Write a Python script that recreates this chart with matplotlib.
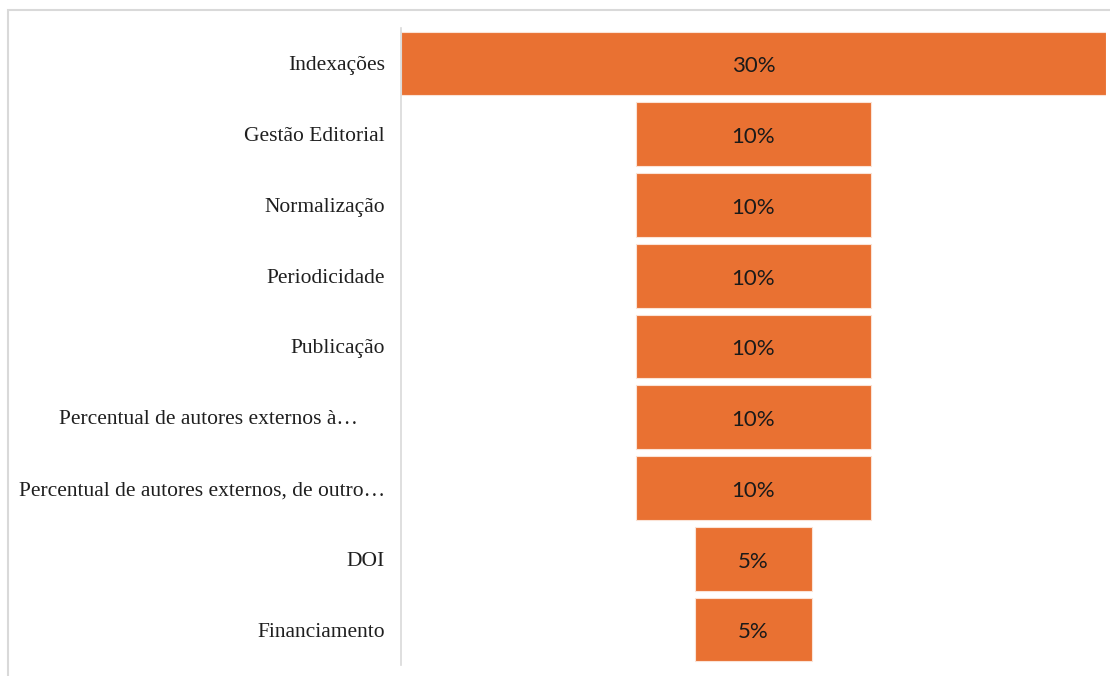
import matplotlib.pyplot as plt
from matplotlib.patches import Rectangle

categories = ['Indexações', 'Gestão Editorial', 'Normalização', 'Periodicidade',
              'Publicação', 'Percentual de autores externos à…     ',
              'Percentual de autores externos, de outro…', 'DOI', 'Financiamento']
values = [30, 10, 10, 10, 10, 10, 10, 5, 5]
labels = ['30%', '10%', '10%', '10%', '10%', '10%', '10%', '5%', '5%']

plt.rcParams['font.family'] = ['Liberation Serif', 'DejaVu Serif']

fig = plt.figure(figsize=(11.1, 6.76), dpi=100)
ax = fig.add_axes([401 / 1110, 1 - 665 / 676, 705 / 1110, 637 / 676])

pos = list(range(len(values)))
lefts = [-v / 2 for v in values]
bars = ax.barh(pos, values, left=lefts, height=0.9, color='#E97132',
               edgecolor='#FBE3D6', linewidth=0.8)
for b, lab in zip(bars, labels):
    ax.text(b.get_x() + b.get_width() / 2, b.get_y() + b.get_height() / 2 + 0.04, lab,
            ha='center', va='center', fontsize=16, color='#1a1a1a',
            family=['Lato', 'DejaVu Sans'])

ax.set_xlim(-15, 15)
ax.set_ylim(len(values) - 0.5, -0.5)
ax.set_yticks(pos)
ax.set_yticklabels(categories, fontsize=15.5, color='#1f1f1f')
ax.tick_params(axis='y', length=0, pad=11.5)
ax.set_xticks([])
for s in ['top', 'right', 'bottom']:
    ax.spines[s].set_visible(False)
ax.spines['left'].set_color('#D9D9D9')
ax.spines['left'].set_linewidth(1.2)

# outer chart frame (partly cropped in the original)
fig.patches.append(Rectangle((8 / 1110, -0.1), 1.2, 1 - 10 / 676 + 0.1,
                             transform=fig.transFigure, fill=False,
                             edgecolor='#D9D9D9', linewidth=1.5))

fig.savefig('out.png', dpi=100)
